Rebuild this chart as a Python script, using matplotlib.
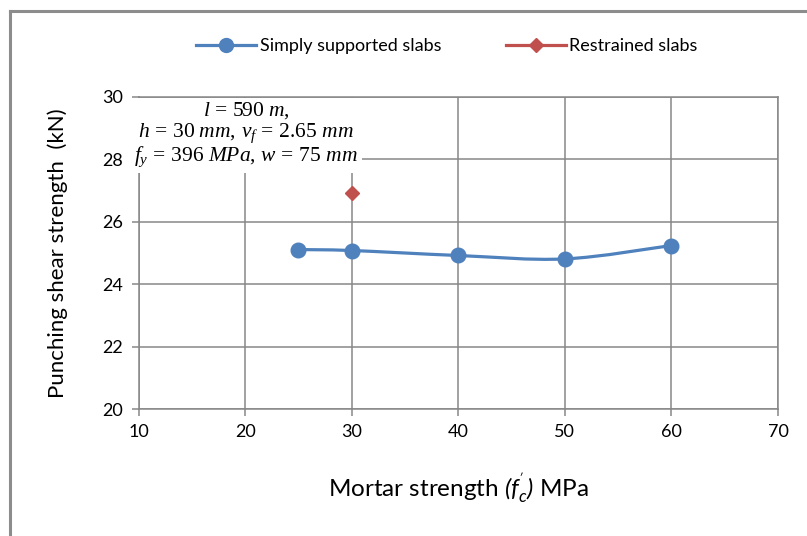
import matplotlib
matplotlib.use("Agg")
import matplotlib.pyplot as plt
from matplotlib.path import Path
from matplotlib.patches import PathPatch
from matplotlib.lines import Line2D

plt.rcParams['font.family'] = ['Lato', 'DejaVu Sans']
plt.rcParams['mathtext.fontset'] = 'custom'
plt.rcParams['mathtext.rm'] = 'Liberation Serif'
plt.rcParams['mathtext.it'] = 'Liberation Serif:italic'
plt.rcParams['mathtext.sf'] = 'Lato:italic'

# --- data ---
mortar_simple = [25, 30, 40, 50, 60]
shear_simple = [25.11, 25.08, 24.92, 24.81, 25.24]
mortar_restrained = [30]
shear_restrained = [26.93]

blue = "#4F81BD"
red = "#C0504D"
grid_col = "#878787"

fig = plt.figure(figsize=(8.07, 5.36), dpi=100)
ax = fig.add_axes([138.5 / 807, 1 - 409 / 536, 639.5 / 807, 312 / 536])

# smoothed line (Excel-style), built as bezier path in data coords
verts = [(mortar_simple[0], shear_simple[0])]
codes = [Path.MOVETO]
n = len(mortar_simple)
for i in range(n - 1):
    x0, y0 = mortar_simple[max(i - 1, 0)], shear_simple[max(i - 1, 0)]
    x1, y1 = mortar_simple[i], shear_simple[i]
    x2, y2 = mortar_simple[i + 1], shear_simple[i + 1]
    x3, y3 = mortar_simple[min(i + 2, n - 1)], shear_simple[min(i + 2, n - 1)]
    c1 = (x1 + (x2 - x0) / 6, y1 + (y2 - y0) / 6)
    c2 = (x2 - (x3 - x1) / 6, y2 - (y3 - y1) / 6)
    verts += [c1, c2, (x2, y2)]
    codes += [Path.CURVE4] * 3
ax.add_patch(PathPatch(Path(verts, codes), facecolor="none", edgecolor=blue,
                       lw=2.3, zorder=3, capstyle="round"))
ax.plot(mortar_simple, shear_simple, linestyle="none", marker="o",
        markersize=10.5, color=blue, zorder=4)
ax.plot(mortar_restrained, shear_restrained, linestyle="none", marker="D",
        markersize=7.5, color=red, zorder=4)

ax.set_xlim(10, 70)
ax.set_ylim(20, 30)
ax.set_xticks(range(10, 71, 10))
ax.set_yticks(range(20, 31, 2))
ax.grid(True, color=grid_col, lw=1.1)
ax.set_axisbelow(True)
for s in ax.spines.values():
    s.set_color(grid_col)
    s.set_linewidth(1.1)
ax.tick_params(direction="out", length=5, width=1.1, color=grid_col,
               labelsize=13, pad=6)

ax.set_xlabel(r"Mortar strength $\mathsf{(f_c^{'})}$ MPa", fontsize=17.5)
ax.xaxis.set_label_coords(0.5, -0.2)
ax.set_ylabel("Punching shear strength  (kN)", fontsize=16)
ax.yaxis.set_label_coords(-0.11, 0.5)

note = (r"$l\,=\,590\ m,$" "\n"
        r"$h\,=\,30\ mm,\,v_f\,=\,2.65\ mm$" "\n"
        r"$f_y\,=\,396\ MPa,\,w\,=\,75\ mm$")
ax.text(20.1, 28.8, note, fontsize=15.5, ha="center", va="center",
        linespacing=1.0, zorder=5,
        bbox=dict(facecolor="white", edgecolor="none", pad=3))

handles = [
    Line2D([], [], color=blue, lw=2.3, marker="o", markersize=10),
    Line2D([], [], color=red, lw=2.3, marker="D", markersize=7),
]
fig.legend(handles, ["Simply supported slabs", "Restrained slabs"],
           loc="center", bbox_to_anchor=(447 / 807, 1 - 46 / 536), ncol=2,
           frameon=False, fontsize=13, handlelength=3.3, columnspacing=3.6,
           handletextpad=0.2)

# chart-area border (left and top visible)
fig.add_artist(Line2D([9.5 / 807, 9.5 / 807], [0, 1 - 11 / 536],
                      transform=fig.transFigure, color="#8C8C8C", lw=2.2))
fig.add_artist(Line2D([9.5 / 807, 1], [1 - 11 / 536, 1 - 11 / 536],
                      transform=fig.transFigure, color="#8C8C8C", lw=2.2))

fig.savefig("out.png", dpi=100)
